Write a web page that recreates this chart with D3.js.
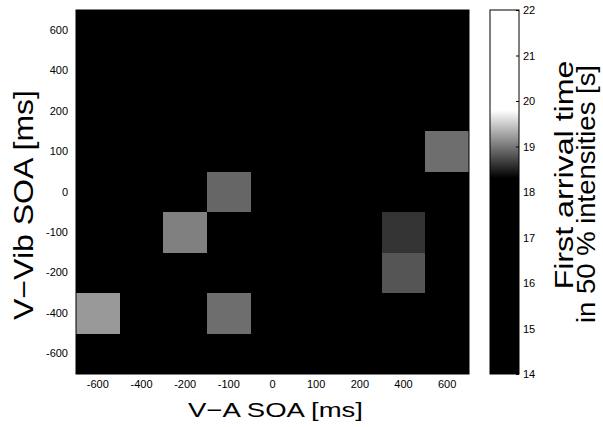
<!DOCTYPE html>
<html>
<head>
<meta charset="utf-8">
<script src="https://cdn.jsdelivr.net/npm/d3@7/dist/d3.min.js"></script>
<style>
  html, body { margin: 0; padding: 0; background: #fff; }
  svg { display: block; font-family: "Liberation Sans", Arial, Helvetica, sans-serif; }
</style>
</head>
<body>
<svg id="chart" width="603" height="427"></svg>
<script>
// ---- data ----
const xCategories = ["-600", "-400", "-200", "-100", "0", "100", "200", "400", "600"];   // V-A SOA [ms]
const yCategories = ["600", "400", "200", "100", "0", "-100", "-200", "-400", "-600"];   // V-Vib SOA [ms], top to bottom
// first arrival time [s], one array per V-Vib SOA row (top to bottom), columns follow xCategories
const rowP600 = [17.5, 17.5, 17.5, 17.5, 17.5, 17.5, 17.5, 17.5, 17.5];
const rowP400 = [17.5, 17.5, 17.5, 17.5, 17.5, 17.5, 17.5, 17.5, 17.5];
const rowP200 = [17.5, 17.5, 17.5, 17.5, 17.5, 17.5, 17.5, 17.5, 17.5];
const rowP100 = [17.5, 17.5, 17.5, 17.5, 17.5, 17.5, 17.5, 17.5, 18.95];
const row0    = [17.5, 17.5, 17.5, 18.9, 17.5, 17.5, 17.5, 17.5, 17.5];
const rowM100 = [17.5, 17.5, 19.05, 17.5, 17.5, 17.5, 17.5, 18.6, 17.5];
const rowM200 = [17.5, 17.5, 17.5, 17.5, 17.5, 17.5, 17.5, 18.8, 17.5];
const rowM400 = [19.2, 17.5, 17.5, 18.95, 17.5, 17.5, 17.5, 17.5, 17.5];
const rowM600 = [17.5, 17.5, 17.5, 17.5, 17.5, 17.5, 17.5, 17.5, 17.5];
const rows = [rowP600, rowP400, rowP200, rowP100, row0, rowM100, rowM200, rowM400, rowM600];
const colorbarTicks = [14, 15, 16, 17, 18, 19, 20, 21, 22];
const colorDomain = [14, 22];

// ---- layout ----
const svg = d3.select("#chart");
const plot = { left: 76, right: 469, top: 10, bottom: 374 };
const cbar = { left: 490, right: 519 };

const x = d3.scaleBand().domain(xCategories).range([plot.left, plot.right]).padding(0);
const y = d3.scaleBand().domain(yCategories).range([plot.top, plot.bottom]).padding(0);

// grayscale colour map: black up to ~18.3 s, ramp to white by ~19.8 s
const color = d3.scaleLinear()
  .domain([colorDomain[0], 18.3, 19.8, colorDomain[1]])
  .range(["#000000", "#000000", "#ffffff", "#ffffff"])
  .clamp(true);

const cells = [];
rows.forEach((r, i) => r.forEach((v, j) => cells.push({ xc: xCategories[j], yc: yCategories[i], v })));

// black background of the plot area so no seams show between cells
svg.append("rect")
  .attr("x", plot.left).attr("y", plot.top)
  .attr("width", plot.right - plot.left).attr("height", plot.bottom - plot.top)
  .attr("fill", color(colorDomain[0]));

svg.append("g").attr("shape-rendering", "crispEdges")
  .selectAll("rect").data(cells).join("rect")
  .attr("x", d => Math.round(x(d.xc)))
  .attr("y", d => Math.round(y(d.yc)))
  .attr("width", d => Math.round(x(d.xc) + x.bandwidth()) - Math.round(x(d.xc)))
  .attr("height", d => Math.round(y(d.yc) + y.bandwidth()) - Math.round(y(d.yc)))
  .attr("fill", d => color(d.v));

svg.append("rect")
  .attr("x", plot.left).attr("y", plot.top)
  .attr("width", plot.right - plot.left).attr("height", plot.bottom - plot.top)
  .attr("fill", "none").attr("stroke", "#000").attr("stroke-width", 1);

// axes
const gx = svg.append("g").attr("transform", `translate(0,${plot.bottom})`)
  .call(d3.axisBottom(x).tickSize(0).tickPadding(6));
gx.select(".domain").remove();
gx.selectAll("text").attr("font-size", 11).attr("fill", "#000")
  .attr("font-family", "'Liberation Sans', Arial, sans-serif");

const gy = svg.append("g").attr("transform", `translate(${plot.left},0)`)
  .call(d3.axisLeft(y).tickSize(0).tickPadding(8));
gy.select(".domain").remove();
gy.selectAll("text").attr("font-size", 11).attr("fill", "#000")
  .attr("font-family", "'Liberation Sans', Arial, sans-serif");

// colorbar
const cy = d3.scaleLinear().domain(colorDomain).range([plot.bottom, plot.top]);
const defs = svg.append("defs");
const grad = defs.append("linearGradient").attr("id", "cgrad")
  .attr("x1", 0).attr("y1", 1).attr("x2", 0).attr("y2", 0);
const nStops = 80;
grad.selectAll("stop").data(d3.range(nStops + 1)).join("stop")
  .attr("offset", i => i / nStops)
  .attr("stop-color", i => color(colorDomain[0] + (colorDomain[1] - colorDomain[0]) * i / nStops));

svg.append("rect")
  .attr("x", cbar.left).attr("y", cy(colorDomain[1]))
  .attr("width", cbar.right - cbar.left).attr("height", cy(colorDomain[0]) - cy(colorDomain[1]))
  .attr("fill", "url(#cgrad)").attr("stroke", "#000").attr("stroke-width", 1);

const gc = svg.append("g").attr("transform", `translate(${cbar.right},0)`)
  .call(d3.axisRight(cy).tickValues(colorbarTicks).tickSize(-3).tickPadding(4).tickFormat(d3.format("d")));
gc.select(".domain").remove();
gc.selectAll("line").attr("stroke", "#000");
gc.selectAll("text").attr("font-size", 11).attr("fill", "#000")
  .attr("font-family", "'Liberation Sans', Arial, sans-serif");

// titles
svg.append("text")
  .attr("x", (plot.left + plot.right) / 2 + 3).attr("y", 417)
  .attr("text-anchor", "middle").attr("font-size", 21)
  .attr("textLength", 175).attr("lengthAdjust", "spacingAndGlyphs")
  .text("V\u2212A SOA [ms]");

svg.append("text")
  .attr("transform", `translate(33,${205}) rotate(-90)`)
  .attr("text-anchor", "middle").attr("font-size", 27)
  .attr("textLength", 230).attr("lengthAdjust", "spacingAndGlyphs")
  .text("V\u2212Vib SOA [ms]");

svg.append("text")
  .attr("transform", `translate(573,${175}) rotate(-90)`)
  .attr("text-anchor", "middle").attr("font-size", 25)
  .attr("textLength", 229).attr("lengthAdjust", "spacingAndGlyphs")
  .text("First arrival time");

svg.append("text")
  .attr("transform", `translate(595,${194}) rotate(-90)`)
  .attr("text-anchor", "middle").attr("font-size", 25)
  .attr("textLength", 258).attr("lengthAdjust", "spacingAndGlyphs")
  .text("in 50 % intensities [s]");
</script>
</body>
</html>
